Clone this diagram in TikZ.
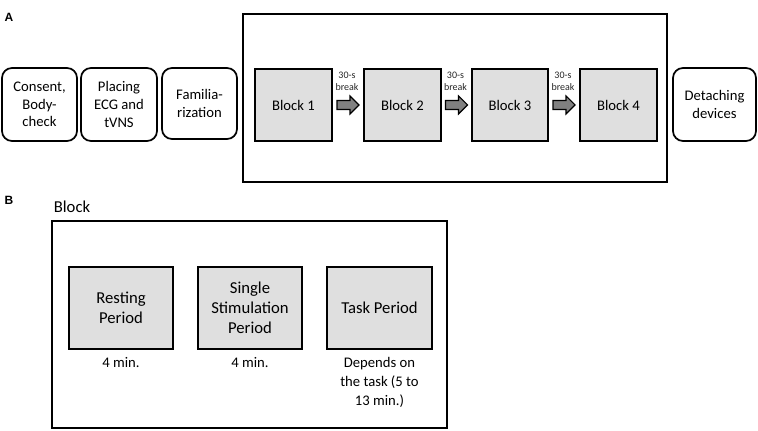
\documentclass[tikz,border=0pt]{standalone}
\usepackage{fontspec}
\setmainfont{Carlito}
\setsansfont{Liberation Sans}
\usetikzlibrary{calc}
\begin{document}
\begin{tikzpicture}[x=0.75pt,y=-0.75pt,
  every node/.style={inner sep=0pt, outer sep=0pt},
  roundbox/.style={draw, line width=1.3pt, rounded corners=7.5pt, align=center, font=\fontsize{11}{13.2}\selectfont},
  frame/.style={draw, line width=1.3pt},
  blockbox/.style={draw, line width=1.1pt, fill=gray!25, font=\fontsize{11}{13.2}\selectfont},
  periodbox/.style={draw, line width=1.7pt, fill=gray!25, align=center, font=\fontsize{12.5}{15}\selectfont},
  smalltxt/.style={align=center, font=\fontsize{7.5}{9}\selectfont, text=black!85},
  undertxt/.style={align=center, font=\fontsize{11}{14}\selectfont},
  panel/.style={font=\sffamily\bfseries\fontsize{9}{10}\selectfont},
  fatarrow/.pic={\draw[line width=0.8pt, fill=gray!75!black!80] (-11,-4.5) -- (2,-4.5) -- (2,-9) -- (11,0) -- (2,9) -- (2,4.5) -- (-11,4.5) -- cycle;}
]
\useasboundingbox (0,0) rectangle (758,431);

% Panel A
\node[panel] (labA) at (9,17) {A};
\node[roundbox, minimum width=75*0.75pt, minimum height=73*0.75pt] (c1) at (39.5,104.5) {Consent,\\Body-\\check};
\node[roundbox, minimum width=76*0.75pt, minimum height=73*0.75pt] (c2) at (119,104.5) {Placing\\ECG and\\tVNS};
\node[roundbox, minimum width=75*0.75pt, minimum height=71*0.75pt] (c3) at (199.5,103.5) {Familia-\\rization};
\node[frame, minimum width=424*0.75pt, minimum height=168*0.75pt] (bigA) at (455,98) {};
\node[blockbox, minimum width=77*0.75pt, minimum height=72*0.75pt] (b1) at (293.5,105) {Block 1};
\node[blockbox, minimum width=77*0.75pt, minimum height=72*0.75pt] (b2) at (402.5,105) {Block 2};
\node[blockbox, minimum width=76*0.75pt, minimum height=72*0.75pt] (b3) at (510,105) {Block 3};
\node[blockbox, minimum width=77*0.75pt, minimum height=72*0.75pt] (b4) at (618.5,105) {Block 4};
\node[roundbox, minimum width=83*0.75pt, minimum height=73*0.75pt] (c4) at (714.5,104.5) {Detaching\\devices};

\coordinate (a1) at ($(b1.east)!0.5!(b2.west)$);
\coordinate (a2) at ($(b2.east)!0.5!(b3.west)$);
\coordinate (a3) at ($(b3.east)!0.5!(b4.west)$);
\pic at (a1) {fatarrow};
\pic at (a2) {fatarrow};
\pic at (a3) {fatarrow};
\node[smalltxt] (t1) at ([shift={(-1,-24)}]a1) {30-s\\break};
\node[smalltxt] (t2) at ([shift={(-1,-24)}]a2) {30-s\\break};
\node[smalltxt] (t3) at ([shift={(-1,-24)}]a3) {30-s\\break};

% Panel B
\node[panel] (labB) at (9,200) {B};
\node[font=\fontsize{12.5}{15}\selectfont] (blk) at (72,207) {Block};
\node[frame, line width=1.7pt, minimum width=395*0.75pt, minimum height=207*0.75pt] (bigB) at (249.5,324.5) {};
\node[periodbox, minimum width=104*0.75pt, minimum height=82*0.75pt] (p1) at (121,308) {Resting\\Period};
\node[periodbox, minimum width=104*0.75pt, minimum height=82*0.75pt] (p2) at (250,308) {Single\\Stimulation\\Period};
\node[periodbox, minimum width=105*0.75pt, minimum height=82*0.75pt] (p3) at (379.5,308) {Task Period};
\node[undertxt, anchor=north] (u1) at ([yshift=-6.5pt]p1.south) {4 min.};
\node[undertxt, anchor=north] (u2) at ([yshift=-6.5pt]p2.south) {4 min.};
\node[undertxt, anchor=north] (u3) at ([yshift=-6.5pt]p3.south) {Depends on\\the task (5 to\\13 min.)};
\end{tikzpicture}
\end{document}
